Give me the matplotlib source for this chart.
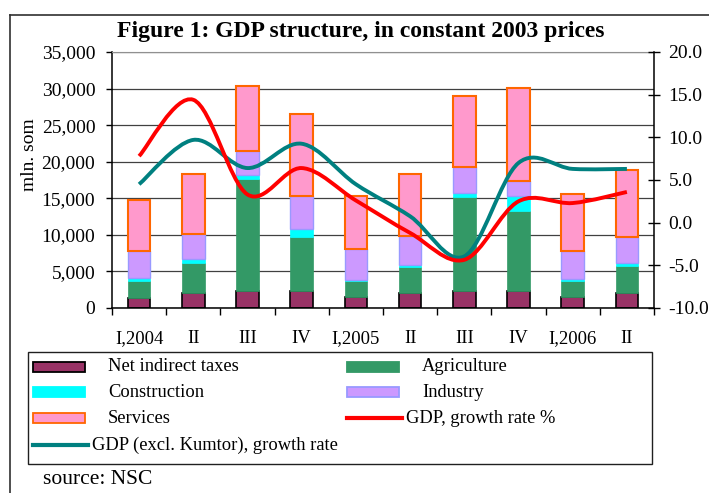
import matplotlib
matplotlib.use('Agg')
import matplotlib.pyplot as plt
import numpy as np
from matplotlib.path import Path
from matplotlib.patches import PathPatch, Rectangle
from matplotlib.lines import Line2D
from matplotlib.ticker import FuncFormatter, MultipleLocator, FixedLocator

plt.rcParams['font.family'] = ['Liberation Serif', 'DejaVu Serif']

quarters = ['I,2004', 'II', 'III', 'IV', 'I,2005', 'II', 'III', 'IV', 'I,2006', 'II']
taxes = [1300, 2050, 2370, 2370, 1550, 2050, 2270, 2270, 1450, 2050]
agriculture = [2450, 4100, 15260, 7330, 2100, 3550, 12900, 11030, 2190, 3640]
construction = [300, 550, 500, 1100, 120, 320, 550, 1960, 320, 460]
industry = [3800, 3360, 3370, 4460, 4300, 3870, 3600, 2140, 3870, 3600]
services = [6900, 8260, 8800, 11200, 7200, 8470, 9600, 12680, 7750, 9060]
gdp_growth = [7.8, 14.4, 3.3, 6.4, 2.6, -1.2, -4.35, 2.5, 2.3, 3.6]
gdp_excl_kumtor = [4.5, 9.7, 6.4, 9.25, 4.5, 0.75, -3.95, 7.0, 6.3, 6.3]


def smooth_path(xs, ys):
    # excel-like smoothed line (catmull-rom through the data points)
    pts = np.column_stack([xs, ys]).astype(float)
    ext = np.vstack([pts[0], pts, pts[-1]])
    verts = [pts[0]]
    codes = [Path.MOVETO]
    for i in range(len(pts) - 1):
        p0, p1, p2, p3 = ext[i], ext[i + 1], ext[i + 2], ext[i + 3]
        verts += [p1 + (p2 - p0) / 6, p2 - (p3 - p1) / 6, p2]
        codes += [Path.CURVE4] * 3
    return Path(verts, codes)


W, H = 709, 493
fig = plt.figure(figsize=(W / 100, H / 100), dpi=100)
ax = fig.add_axes([112 / W, 1 - 308 / H, 542 / W, 256 / H])
ax2 = ax.twinx()

x = np.arange(len(quarters))
bw = 0.42
layers = [
    (taxes, '#993366', 'black', 1.2),
    (agriculture, '#339966', '#339966', 0.5),
    (construction, '#00FFFF', '#00FFFF', 0.5),
    (industry, '#CC99FF', '#9999FF', 1.0),
    (services, '#FF99CC', '#FF6600', 1.5),
]
bottom = np.zeros(len(x))
for vals, fc, ec, lw in layers:
    ax.bar(x, vals, bw, bottom=bottom, color=fc, edgecolor=ec, linewidth=lw, zorder=2)
    bottom += np.array(vals)

ax.set_xlim(-0.5, len(x) - 0.5)
ax.set_ylim(0, 35000)
ax.yaxis.set_major_locator(MultipleLocator(5000))
ax.yaxis.set_major_formatter(FuncFormatter(lambda v, p: f'{int(v):,}'))
ax.set_axisbelow(True)
ax.grid(axis='y', color='#404040', linewidth=0.9)
ax.xaxis.set_major_locator(FixedLocator(np.arange(-0.5, len(x), 1.0)))
ax.xaxis.set_major_formatter(FuncFormatter(lambda v, p: ''))
ax.xaxis.set_minor_locator(FixedLocator(x))
ax.set_xticklabels(quarters, minor=True)
ax.tick_params(axis='x', which='major', direction='out', length=5, width=1)
ax.tick_params(axis='x', which='minor', length=0, pad=16, labelsize=13.5)
ax.tick_params(axis='y', direction='out', length=4, width=1, pad=8, labelsize=14)
ax.spines['top'].set_color('#909090')
ax.spines['right'].set_visible(False)
for s in ['left', 'bottom']:
    ax.spines[s].set_linewidth(1.1)

ax2.set_ylim(-10, 20)
ax2.yaxis.set_major_locator(MultipleLocator(5))
ax2.yaxis.set_major_formatter(FuncFormatter(lambda v, p: f'{v:.1f}'))
ax2.tick_params(axis='y', direction='inout', length=9, width=1, pad=6, labelsize=14)
for s in ['top', 'left', 'bottom']:
    ax2.spines[s].set_visible(False)
ax2.spines['right'].set_linewidth(1.1)

ax2.add_patch(PathPatch(smooth_path(x, gdp_excl_kumtor), fill=False, edgecolor='#008080',
                        linewidth=2.8, capstyle='butt', zorder=3))
ax2.add_patch(PathPatch(smooth_path(x, gdp_growth), fill=False, edgecolor='#FF0000',
                        linewidth=2.8, capstyle='butt', zorder=4))

fig.text(361 / W, 1 - 32 / H, 'Figure 1: GDP structure, in constant 2003 prices',
         ha='center', va='center', fontsize=17, fontweight='bold')
fig.text(30 / W, 1 - 155 / H, 'mln. som', rotation=90, ha='center', va='center', fontsize=14)
fig.text(43 / W, 1 - 479 / H, 'source: NSC', ha='left', va='center', fontsize=15.5)

# legend, laid out by hand like the excel one (pixel positions)
legend_items = [
    ('patch', 'Net indirect taxes', '#993366', 'black', 33, 366.7),
    ('patch', 'Agriculture', '#339966', '#339966', 347, 366.7),
    ('patch', 'Construction', '#00FFFF', '#00FFFF', 33, 392.3),
    ('patch', 'Industry', '#CC99FF', '#9999FF', 347, 392.3),
    ('patch', 'Services', '#FF99CC', '#FF6600', 33, 418.3),
    ('line', 'GDP, growth rate %', '#FF0000', None, 347, 418.3),
    ('line', 'GDP (excl. Kumtor), growth rate', '#008080', None, 33, 445),
]
for kind, label, fc, ec, px, py in legend_items:
    if kind == 'patch':
        fig.add_artist(Rectangle((px / W, 1 - (py + 5) / H), 52 / W, 10 / H,
                                 facecolor=fc, edgecolor=ec, linewidth=1.3,
                                 transform=fig.transFigure))
        tx = px + 75
    else:
        fig.add_artist(Line2D([px / W, (px + 55) / W], [1 - py / H, 1 - py / H],
                              color=fc, linewidth=3))
        tx = px + 59
    fig.text(tx / W, 1 - py / H, label, ha='left', va='center', fontsize=13.3)

fig.add_artist(Rectangle((28 / W, 1 - 464 / H), 624 / W, 112 / H, fill=False,
                         edgecolor='#202020', linewidth=1.0, transform=fig.transFigure))

# outer chart frame (cut by the image edges)
fig.add_artist(Line2D([10 / W, 10 / W], [0, 1 - 15 / H], color='#303030', linewidth=1.2))
fig.add_artist(Line2D([10 / W, 1], [1 - 15 / H, 1 - 15 / H], color='#303030', linewidth=1.2))

fig.savefig('out.png', dpi=100, facecolor='white')
